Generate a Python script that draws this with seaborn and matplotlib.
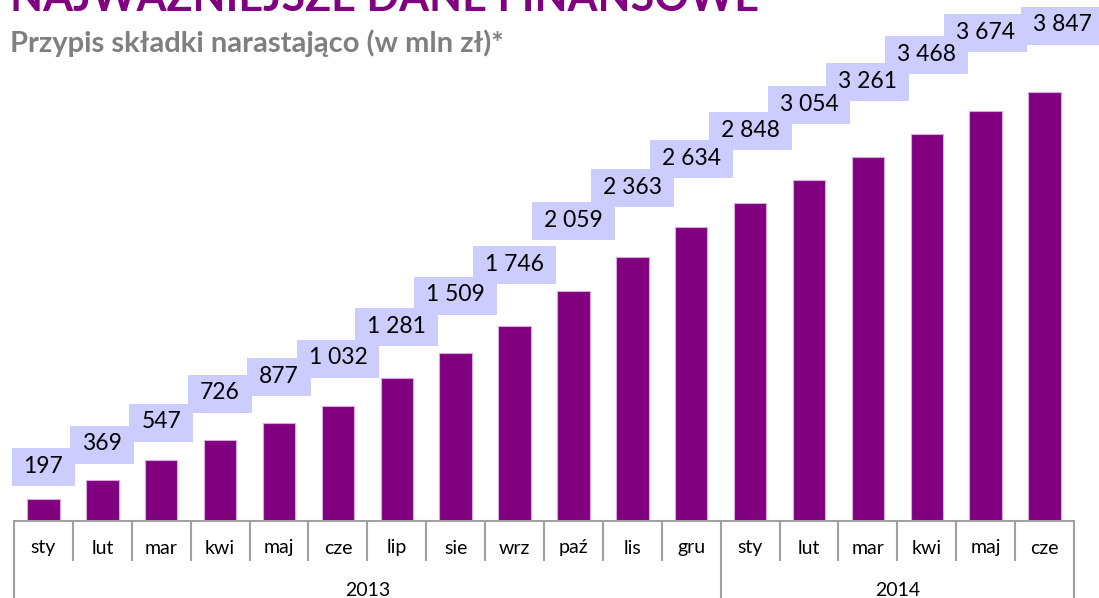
import matplotlib
matplotlib.use("Agg")
import matplotlib.pyplot as plt
import matplotlib.transforms as mtransforms
from matplotlib.patches import Rectangle
import seaborn as sns
import pandas as pd

# ---------------- data ----------------
months = ["sty", "lut", "mar", "kwi", "maj", "cze", "lip", "sie", "wrz", "paź", "lis", "gru",
          "sty", "lut", "mar", "kwi", "maj", "cze"]
years = ["2013"] * 12 + ["2014"] * 6
values = [197, 369, 547, 726, 877, 1032, 1281, 1509, 1746, 2059, 2363, 2634,
          2848, 3054, 3261, 3468, 3674, 3847]
year_groups = ["2013", "2014"]

title_text = "NAJWAŻNIEJSZE DANE FINANSOWE"
subtitle_text = "Przypis składki narastająco (w mln zł)*"

# ---------------- layout (pixels) ----------------
label_lift_px = [33, 36, 38, 47, 47, 48, 52, 58, 62, 71, 70, 69, 73, 76, 76, 80, 79, 67]
label_shift_px = [0] * 17 + [18]

W, H = 1099, 598
base_px = 521
left_px, right_px = 14, 1074
px_per_unit = 0.11159

sns.set_theme(style="white")
plt.rcParams['font.family'] = ['Lato', 'DejaVu Sans']

fig = plt.figure(figsize=(W / 100, H / 100), dpi=100)
ax = fig.add_axes([left_px / W, (H - base_px) / H, (right_px - left_px) / W, base_px / H])

df = pd.DataFrame({"key": [f"{m} {y}" for m, y in zip(months, years)], "value": values})
sns.barplot(data=df, x="key", y="value", color="#800080", width=0.55, saturation=1,
            edgecolor="#d9a9d9", linewidth=0.8, ax=ax)
ax.set_xlim(-0.5, len(values) - 0.5)
ax.set_ylim(0, base_px / px_per_unit)
ax.set_xticks([])
ax.set_yticks([])
ax.set_xlabel("")
ax.set_ylabel("")
for s in ["top", "left", "right"]:
    ax.spines[s].set_visible(False)
ax.spines["bottom"].set_color("#a0a0a0")
ax.spines["bottom"].set_linewidth(1.5)

blend = mtransforms.blended_transform_factory(ax.transData, ax.transAxes)
sep_color = "#a0a0a0"
n = len(values)
long_bounds = [0, months.index("gru") + 1, n]
for b in range(n + 1):
    depth = (H - base_px) if b in long_bounds else 40
    ax.plot([b - 0.5, b - 0.5], [0, -depth / base_px], transform=blend, color=sep_color,
            lw=1.5, clip_on=False, solid_capstyle="butt")

# month labels
for i, m in enumerate(months):
    ax.annotate(m, xy=(i, 0), xycoords=blend, xytext=(0, -27), textcoords="offset pixels",
                ha="center", va="center", fontsize=14, color="#000000", annotation_clip=False)

# year labels
for yname in year_groups:
    idx = [i for i, y in enumerate(years) if y == yname]
    xc = (idx[0] + idx[-1]) / 2
    ax.annotate(yname, xy=(xc, 0), xycoords=blend, xytext=(0, -69), textcoords="offset pixels",
                ha="center", va="center", fontsize=14, color="#000000", annotation_clip=False)

# value labels
texts = []
for i, v in enumerate(values):
    t = ax.annotate(f"{v:,}".replace(",", " "), xy=(i, v),
                    xytext=(label_shift_px[i], label_lift_px[i]),
                    textcoords="offset pixels", ha="center", va="center", fontsize=16.5,
                    color="#000000", zorder=6, annotation_clip=False)
    texts.append(t)

fig.canvas.draw()
renderer = fig.canvas.get_renderer()
ident = mtransforms.IdentityTransform()
for t in texts:
    bb = t.get_window_extent(renderer)
    cx = (bb.x0 + bb.x1) / 2
    cy = (bb.y0 + bb.y1) / 2
    w = bb.width + 24
    h = 38
    rect = Rectangle((cx - w / 2, cy - h / 2 - 1), w, h, transform=ident, facecolor="#ccccff",
                     edgecolor="none", zorder=4, clip_on=False)
    ax.add_patch(rect)

# titles
fig.text(10 / W, 1 - 11 / H, title_text, fontsize=31, fontweight="bold", color="#800080",
         ha="left", va="baseline")
fig.text(10 / W, 1 - 43 / H, subtitle_text, fontsize=21, fontweight="bold", color="#7f7f7f",
         ha="left", va="center")

fig.savefig("out.png", dpi=100)
